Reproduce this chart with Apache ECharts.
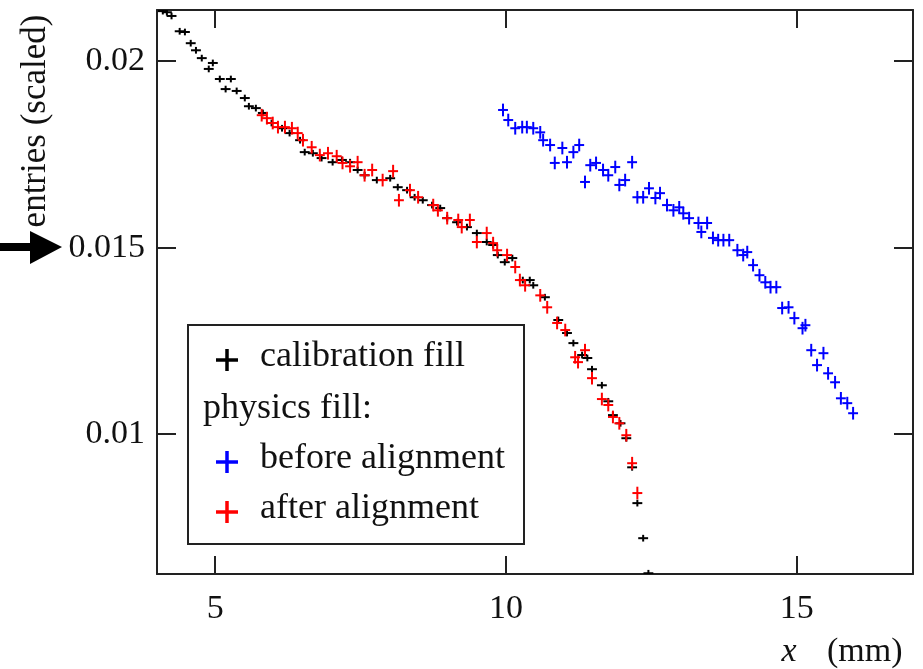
<!DOCTYPE html>
<html>
<head>
<meta charset="utf-8">
<title>entries vs x</title>
<script src="https://cdn.jsdelivr.net/npm/echarts@6/dist/echarts.min.js"></script>
<style>
  html, body { margin: 0; padding: 0; background: #fff; }
  #chart { width: 923px; height: 669px; }
</style>
</head>
<body>
<div id="chart"></div>
<script>
// calibration fill (black)
var calibX = [4.10, 4.17, 4.25, 4.39, 4.48, 4.58, 4.67, 4.77, 4.89, 4.96, 5.08, 5.18, 5.27, 5.37, 5.51, 5.58,
  5.70, 5.82, 5.97, 6.15, 6.28, 6.46, 6.54, 6.68, 6.83, 7.02, 7.18, 7.32, 7.45, 7.57, 7.78, 8.01, 8.14,
  8.30, 8.43, 8.57, 8.73, 8.87, 8.99, 9.16, 9.33, 9.50, 9.67, 9.78, 9.86, 9.98, 10.11, 10.29, 10.41,
  10.47, 10.67, 10.90, 11.05, 11.16, 11.31, 11.40, 11.48, 11.65, 11.76, 11.84, 11.97, 12.07, 12.17,
  12.26, 12.36, 12.45];
var calibY = [0.02134, 0.02131, 0.02121, 0.02080, 0.02078, 0.02048, 0.02029, 0.02008, 0.01979, 0.01995,
  0.01952, 0.01925, 0.01952, 0.01920, 0.01901, 0.01879, 0.01874, 0.01861, 0.01834, 0.01820, 0.01807,
  0.01788, 0.01756, 0.01753, 0.01740, 0.01729, 0.01735, 0.01729, 0.01708, 0.01694, 0.01681, 0.01686,
  0.01662, 0.01654, 0.01635, 0.01627, 0.01614, 0.01606, 0.01579, 0.01568, 0.01555, 0.01539, 0.01515,
  0.01507, 0.01480, 0.01461, 0.01472, 0.01413, 0.01413, 0.01399, 0.01367, 0.01306, 0.01271, 0.01244,
  0.01212, 0.01204, 0.01174, 0.01131, 0.01088, 0.01051, 0.01029, 0.00989, 0.00911, 0.00815, 0.00721,
  0.00627];

// physics fill, before alignment (blue)
var beforeX = [9.95, 10.04, 10.16, 10.28, 10.36, 10.47, 10.59, 10.64, 10.76, 10.84, 10.97, 11.05, 11.16,
  11.26, 11.36, 11.45, 11.55, 11.67, 11.76, 11.88, 11.95, 12.05, 12.17, 12.26, 12.36, 12.46, 12.57,
  12.65, 12.77, 12.88, 12.98, 13.05, 13.15, 13.31, 13.36, 13.46, 13.56, 13.65, 13.74, 13.84, 13.98,
  14.08, 14.15, 14.25, 14.36, 14.46, 14.55, 14.65, 14.75, 14.86, 14.96, 15.10, 15.15, 15.25, 15.35,
  15.46, 15.54, 15.66, 15.76, 15.87, 15.97];
var beforeY = [0.01869, 0.01842, 0.01820, 0.01823, 0.01823, 0.01820, 0.01809, 0.01788, 0.01775, 0.01727,
  0.01767, 0.01729, 0.01756, 0.01775, 0.01676, 0.01721, 0.01727, 0.01708, 0.01694, 0.01716, 0.01668,
  0.01681, 0.01729, 0.01635, 0.01635, 0.01659, 0.01633, 0.01646, 0.01614, 0.01600, 0.01608, 0.01592,
  0.01579, 0.01566, 0.01542, 0.01566, 0.01526, 0.01520, 0.01520, 0.01520, 0.01493, 0.01480, 0.01488,
  0.01453, 0.01426, 0.01407, 0.01394, 0.01394, 0.01338, 0.01340, 0.01311, 0.01284, 0.01292, 0.01225,
  0.01185, 0.01217, 0.01163, 0.01139, 0.01096, 0.01083, 0.01056];

// physics fill, after alignment (red)
var afterX = [5.80, 5.89, 5.99, 6.08, 6.20, 6.32, 6.42, 6.51, 6.66, 6.80, 6.94, 7.09, 7.19, 7.32, 7.45,
  7.57, 7.70, 7.88, 8.06, 8.16, 8.35, 8.49, 8.75, 8.83, 8.99, 9.18, 9.24, 9.38, 9.50, 9.67, 9.78, 9.85,
  10.02, 10.16, 10.24, 10.33, 10.59, 10.71, 10.88, 11.02, 11.19, 11.24, 11.36, 11.48, 11.65, 11.76,
  11.84, 11.95, 12.07, 12.17, 12.26];
var afterY = [0.01855, 0.01847, 0.01834, 0.01823, 0.01823, 0.01820, 0.01807, 0.01788, 0.01769, 0.01748,
  0.01753, 0.01745, 0.01727, 0.01718, 0.01729, 0.01694, 0.01708, 0.01681, 0.01705, 0.01627, 0.01654,
  0.01635, 0.01614, 0.01600, 0.01579, 0.01574, 0.01555, 0.01574, 0.01515, 0.01539, 0.01512, 0.01493,
  0.01480, 0.01448, 0.01413, 0.01399, 0.01372, 0.01340, 0.01298, 0.01279, 0.01206, 0.01193, 0.01225,
  0.01150, 0.01094, 0.01078, 0.01046, 0.01029, 0.00997, 0.00922, 0.00842];

// half bin width (mm) and vertical errors
var binHalf = 0.085;
var calibErr = 0.00009;
var physErr = 0.00017;

var xTicks = [5, 10, 15];
var yTicks = [0.01, 0.015, 0.02];

var FONT = '"Liberation Serif", "Times New Roman", serif';

function pairs(xs, ys) {
  return xs.map(function (x, i) { return [x, ys[i]]; });
}

// draws one cross: horizontal bar = bin, vertical bar = error
function crossRenderer(color, errY) {
  return function (params, api) {
    var x = api.value(0), y = api.value(1);
    var l = api.coord([x - binHalf, y]);
    var r = api.coord([x + binHalf, y]);
    var t = api.coord([x, y + errY]);
    var b = api.coord([x, y - errY]);
    var st = { stroke: color, lineWidth: 2 };
    return {
      type: 'group',
      children: [
        { type: 'line', shape: { x1: l[0], y1: l[1], x2: r[0], y2: r[1] }, style: st },
        { type: 'line', shape: { x1: t[0], y1: t[1], x2: b[0], y2: b[1] }, style: st }
      ]
    };
  };
}

var frame = { show: true, onZero: false, lineStyle: { color: '#222', width: 2 } };
var tickX = { show: true, inside: true, length: 18, customValues: xTicks, lineStyle: { color: '#222', width: 2 } };
var tickY = { show: true, inside: true, length: 19, customValues: yTicks, lineStyle: { color: '#222', width: 2 } };

function plusGlyph(cx, cy, color) {
  return {
    type: 'group',
    children: [
      { type: 'line', shape: { x1: cx - 11, y1: cy, x2: cx + 11, y2: cy }, style: { stroke: color, lineWidth: 3.5 } },
      { type: 'line', shape: { x1: cx, y1: cy - 11, x2: cx, y2: cy + 11 }, style: { stroke: color, lineWidth: 3.5 } }
    ]
  };
}

function legendText(x, y, s) {
  return {
    type: 'text', x: x, y: y,
    style: { text: s, font: '36px ' + FONT, fill: '#111', align: 'left', verticalAlign: 'middle' }
  };
}

var chart = echarts.init(document.getElementById('chart'));
chart.setOption({
  animation: false,
  backgroundColor: '#fff',
  grid: { left: 157, right: 10, top: 10, bottom: 95, outerBoundsMode: 'none' },
  xAxis: [
    {
      type: 'value', min: 4, max: 17, position: 'bottom',
      axisLine: frame, axisTick: tickX, splitLine: { show: false },
      axisLabel: { customValues: xTicks, fontSize: 34, fontFamily: FONT, color: '#111', margin: 18 }
    },
    {
      type: 'value', min: 4, max: 17, position: 'top',
      axisLine: frame, axisTick: tickX, splitLine: { show: false }, axisLabel: { show: false }
    }
  ],
  yAxis: [
    {
      type: 'value', min: 0.00625, max: 0.02137, position: 'left',
      axisLine: frame, axisTick: tickY, splitLine: { show: false },
      axisLabel: { customValues: yTicks, fontSize: 34, fontFamily: FONT, color: '#111', margin: 12 }
    },
    {
      type: 'value', min: 0.00625, max: 0.02137, position: 'right',
      axisLine: frame, axisTick: tickY, splitLine: { show: false }, axisLabel: { show: false }
    }
  ],
  series: [
    {
      name: 'calibration fill', type: 'custom', clip: true,
      renderItem: crossRenderer('#000', calibErr),
      encode: { x: 0, y: 1 }, data: pairs(calibX, calibY)
    },
    {
      name: 'before alignment', type: 'custom', clip: true,
      renderItem: crossRenderer('#0000ff', physErr),
      encode: { x: 0, y: 1 }, data: pairs(beforeX, beforeY)
    },
    {
      name: 'after alignment', type: 'custom', clip: true,
      renderItem: crossRenderer('#ff0000', physErr),
      encode: { x: 0, y: 1 }, data: pairs(afterX, afterY)
    }
  ],
  graphic: [
    // y axis title
    {
      type: 'text', x: 36, y: 121, rotation: Math.PI / 2,
      style: { text: 'entries (scaled)', font: '35px ' + FONT, fill: '#111', align: 'center', verticalAlign: 'middle' }
    },
    // arrow pointing at 0.015
    {
      type: 'polygon',
      shape: { points: [[0, 243], [30, 243], [30, 231], [62, 247], [30, 264], [30, 251], [0, 251]] },
      style: { fill: '#000' }
    },
    // x axis title
    {
      type: 'text', x: 789, y: 652,
      style: { text: 'x', font: 'italic 34px ' + FONT, fill: '#111', align: 'center', verticalAlign: 'middle' }
    },
    {
      type: 'text', x: 827, y: 652,
      style: { text: '(mm)', font: '34px ' + FONT, fill: '#111', align: 'left', verticalAlign: 'middle' }
    },
    // legend box
    {
      type: 'group', z: 100,
      children: [
        { type: 'rect', shape: { x: 188, y: 325, width: 336, height: 219 }, style: { fill: '#fff', stroke: '#222', lineWidth: 2 } },
        plusGlyph(227, 360, '#000'),
        plusGlyph(227, 462, '#0000ff'),
        plusGlyph(227, 512, '#ff0000'),
        legendText(260, 357, 'calibration fill'),
        legendText(203, 409, 'physics fill:'),
        legendText(260, 459, 'before alignment'),
        legendText(260, 509, 'after alignment')
      ]
    }
  ]
});
</script>
</body>
</html>
